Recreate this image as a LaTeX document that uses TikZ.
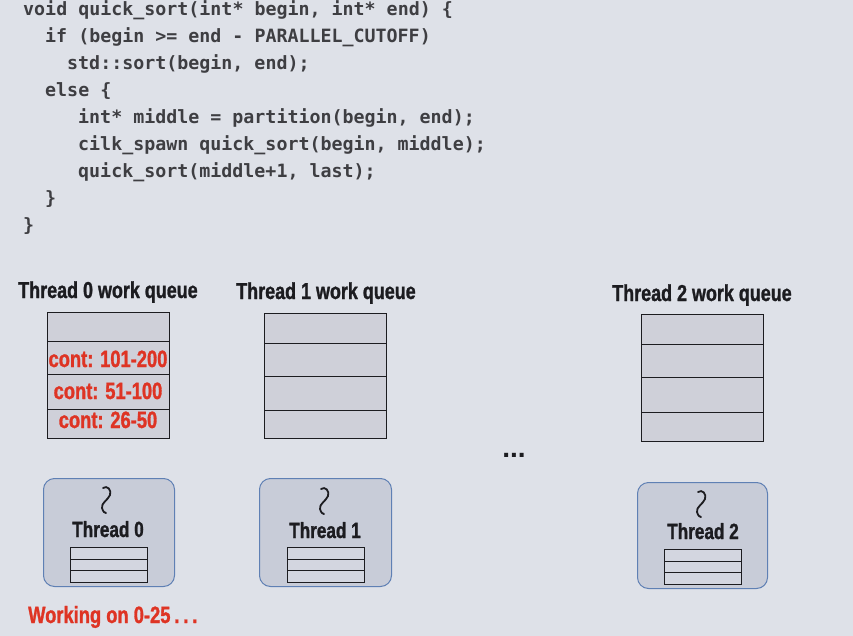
\documentclass[tikz,border=0pt]{standalone}
\usepackage{fontspec}
\newfontfamily\codefont{DejaVu Sans Mono}
\newfontfamily\cond[FakeStretch=0.78, BoldFeatures={FakeBold=1.2}]{Liberation Sans}
\definecolor{bg}{RGB}{222,225,232}
\definecolor{cellfill}{RGB}{207,208,217}
\definecolor{thfill}{RGB}{200,204,216}
\definecolor{thborder}{RGB}{95,128,180}
\definecolor{hot}{RGB}{222,52,36}
\definecolor{codecol}{RGB}{62,62,66}
\definecolor{ink}{RGB}{28,28,32}
\tikzset{
  code/.style={anchor=base west, inner sep=0pt, font=\codefont\bfseries\fontsize{18.3}{20}\selectfont, text=codecol},
  head/.style={anchor=base, inner sep=0pt, font=\cond\bfseries\fontsize{23}{25}\selectfont, text=ink},
  thlabel/.style={anchor=base, inner sep=0pt, font=\cond\bfseries\fontsize{22}{24}\selectfont, text=ink},
  redtxt/.style={anchor=base, inner sep=0pt, font=\cond\bfseries\fontsize{23.5}{25}\selectfont, text=hot},
  cell/.style={draw=ink, line width=1.1pt, fill=cellfill, anchor=north west, inner sep=0pt, minimum width=122pt},
  mini/.style={draw=ink, line width=0.9pt, fill=white!20!thfill, anchor=north west, inner sep=0pt, minimum width=77pt, minimum height=11.5pt},
  thbox/.style={draw=thborder, line width=1pt, fill=thfill, rounded corners=11pt, anchor=north west, inner sep=0pt},
  squig/.style={draw=ink, line width=1.8pt, line cap=round}
}
\begin{document}
\begin{tikzpicture}[x=1pt,y=-1pt]
\fill[bg] (0,0) rectangle (853,636);
\useasboundingbox (0,0) rectangle (853,636);

% code
\node[code] (c1) at (23,16) {void quick\_sort(int* begin, int* end) \{};
\node[code] (c2) at (45,43) {if (begin >= end - PARALLEL\_CUTOFF)};
\node[code] (c3) at (67,70) {std::sort(begin, end);};
\node[code] (c4) at (45,97) {else \{};
\node[code] (c5) at (78,124) {int* middle = partition(begin, end);};
\node[code] (c6) at (78,151) {cilk\_spawn quick\_sort(begin, middle);};
\node[code] (c7) at (78,178) {quick\_sort(middle+1, last);};
\node[code] (c8) at (45,205) {\}};
\node[code] (c9) at (23,232) {\}};

% headings
\node[head] (h0) at (108,298) {Thread 0 work queue};
\node[head] (h1) at (326,299) {Thread 1 work queue};
\node[head] (h2) at (702,301) {Thread 2 work queue};

% queue 0
\node[cell, minimum height=29pt] (q0a) at (47,312) {};
\node[cell, minimum height=33pt] (q0b) at (47,341) {};
\node[cell, minimum height=35pt] (q0c) at (47,374) {};
\node[cell, minimum height=29pt] (q0d) at (47,409) {};
\node[redtxt] (r1) at (108,367) {cont: 101-200};
\node[redtxt] (r2) at (108,399) {cont: 51-100};
\node[redtxt] (r3) at (108,428) {cont: 26-50};

% queue 1
\node[cell, minimum height=30pt] (q1a) at (264,313) {};
\node[cell, minimum height=33pt] (q1b) at (264,343) {};
\node[cell, minimum height=34pt] (q1c) at (264,376) {};
\node[cell, minimum height=28pt] (q1d) at (264,410) {};

% queue 2
\node[cell, minimum height=30pt] (q2a) at (641,314) {};
\node[cell, minimum height=33pt] (q2b) at (641,344) {};
\node[cell, minimum height=35pt] (q2c) at (641,377) {};
\node[cell, minimum height=29pt] (q2d) at (641,412) {};

% dots
\node[anchor=base, inner sep=0pt, font=\fontspec{Liberation Sans}\bfseries\fontsize{28}{30}\selectfont, text=ink] (dots) at (514,457) {...};

% thread boxes
\node[thbox, minimum width=131pt, minimum height=108pt] (t0) at (43,478) {};
\node[thbox, minimum width=132pt, minimum height=108pt] (t1) at (259,478) {};
\node[thbox, minimum width=130pt, minimum height=106pt] (t2) at (637,482) {};

\node[thlabel] (t0l) at (108,537) {Thread 0};
\node[thlabel] (t1l) at (325,538) {Thread 1};
\node[thlabel] (t2l) at (703,539) {Thread 2};

% mini tables
\node[mini] (m0a) at (70,547) {};
\node[mini] (m0b) at (70,558.5) {};
\node[mini] (m0c) at (70,570) {};
\node[mini] (m1a) at (287,547) {};
\node[mini] (m1b) at (287,558.5) {};
\node[mini] (m1c) at (287,570) {};
\node[mini] (m2a) at (664,549) {};
\node[mini] (m2b) at (664,560.5) {};
\node[mini] (m2c) at (664,572) {};

% squiggles
\foreach \sx/\sy in {106/487, 324/488, 701/491}{
  \begin{scope}[shift={(\sx,\sy)}]
    \draw[squig] (-3,1) .. controls (1,-2) and (6,3) .. (4,8)
                 .. controls (2,13) and (-5,16) .. (-4,21)
                 .. controls (-3,25) and (-1,26) .. (0,26);
  \end{scope}
}

% status
\node[redtxt, anchor=base west] (work) at (28,623) {Working on 0-25\,.\,.\,.};
\end{tikzpicture}
\end{document}
